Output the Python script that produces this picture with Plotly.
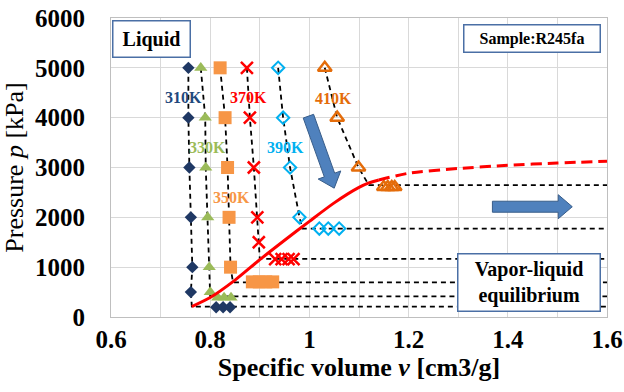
import plotly.graph_objects as go

FONT = "Liberation Serif, Times New Roman, serif"

# ---------------- data ----------------
temps = [310, 330, 350, 370, 390, 410]
labels = ["310K", "330K", "350K", "370K", "390K", "410K"]

# measured liquid-region points of each isotherm
v_310 = [0.756, 0.756, 0.758, 0.761, 0.764, 0.761]
p_310 = [5000, 4000, 3000, 2000, 1000, 500]
v_330 = [0.781, 0.790, 0.791, 0.795, 0.798, 0.800]
p_330 = [5000, 4000, 3000, 2000, 1000, 500]
v_350 = [0.820, 0.830, 0.835, 0.838, 0.841]
p_350 = [5000, 4000, 3000, 2000, 1000]
v_370 = [0.874, 0.880, 0.888, 0.895, 0.898]
p_370 = [5000, 4000, 3000, 2000, 1500]
v_390 = [0.937, 0.947, 0.961, 0.980]
p_390 = [5000, 4000, 3000, 2000]
v_410 = [1.031, 1.056, 1.099]
p_410 = [5000, 4000, 3000]

# measured points in the vapor-liquid region
v2_310 = [0.812, 0.826, 0.840]
p2_310 = [195, 195, 195]
v2_330 = [0.815, 0.828, 0.842]
p2_330 = [390, 390, 390]
v2_350 = [0.885, 0.899, 0.912, 0.926]
p2_350 = [705, 705, 705, 705]
v2_370 = [0.931, 0.944, 0.958, 0.968]
p2_370 = [1160, 1160, 1160, 1160]
v2_390 = [1.020, 1.038, 1.060]
p2_390 = [1775, 1775, 1775]
v2_410 = [1.150, 1.158, 1.166, 1.172]
p2_410 = [2610, 2610, 2610, 2610]

# saturation (bubble) point of each isotherm
sat_v = [0.763, 0.800, 0.846, 0.900, 0.986, 1.120]
sat_p = [207, 415, 695, 1165, 1775, 2645]

# saturated-liquid curve (solid) and its extension (dashed)
curve_v = [0.763, 0.800, 0.850, 0.900, 0.950, 1.000, 1.050, 1.100, 1.120, 1.140]
curve_p = [210, 390, 740, 1150, 1540, 1920, 2290, 2600, 2690, 2750]
ext_v = [1.140, 1.200, 1.300, 1.400, 1.500, 1.600]
ext_p = [2750, 2885, 2980, 3045, 3090, 3125]

# label positions (data coords)
lab_v = [0.746, 0.795, 0.842, 0.878, 0.952, 1.048]
lab_p = [4405, 3400, 2400, 4405, 3400, 4380]

X_MAX = 1.6

# ---------------- styles ----------------
colors_lab = ["#1F497D", "#9BBB59", "#F79646", "#FF0000", "#00B0F0", "#E46C0A"]
series = [
    (v_310, p_310, v2_310, p2_310, dict(symbol="diamond", size=9.5, color="#1F3864")),
    (v_330, p_330, v2_330, p2_330, dict(symbol="triangle-up", size=11.5, color="#9BBB59")),
    (v_350, p_350, v2_350, p2_350, dict(symbol="square", size=13, color="#F79646")),
    (v_370, p_370, v2_370, p2_370, dict(symbol="x-thin", size=12, color="#FF0000",
                                        line=dict(color="#FF0000", width=2.5))),
    (v_390, p_390, v2_390, p2_390, dict(symbol="diamond-open", size=9.5, color="#00B0F0",
                                        line=dict(color="#00B0F0", width=2))),
    (v_410, p_410, v2_410, p2_410, dict(symbol="triangle-up-open", size=12, color="#E46C0A",
                                        line=dict(color="#E46C0A", width=2.5))),
]

W, H = 624, 392
ML, MR, MT, MB = 111, 17, 18, 75
PW, PH = W - ML - MR, H - MT - MB
XR = [0.6, 1.6]
YR = [0, 6000]

fig = go.Figure()

# dashed isotherm lines
for i, (v, p, v2, p2, mk) in enumerate(series):
    fig.add_trace(go.Scatter(
        x=v + [sat_v[i], X_MAX], y=p + [sat_p[i], sat_p[i]],
        mode="lines", line=dict(color="#000000", width=1.8, dash="5px,4px"),
        showlegend=False, hoverinfo="skip"))

# markers
for i, (v, p, v2, p2, mk) in enumerate(series):
    fig.add_trace(go.Scatter(x=v + v2, y=p + p2, mode="markers", marker=mk,
                             name=labels[i], showlegend=False))

# saturated liquid curve
fig.add_trace(go.Scatter(x=curve_v, y=curve_p, mode="lines",
                         line=dict(color="#FF0000", width=3, shape="spline", smoothing=0.7),
                         showlegend=False))
fig.add_trace(go.Scatter(x=ext_v, y=ext_p, mode="lines",
                         line=dict(color="#FF0000", width=3, dash="11px,6px", shape="spline", smoothing=0.7),
                         showlegend=False))


# ---------------- helpers for block arrows ----------------
def to_px(v, p):
    return (ML + (v - XR[0]) / (XR[1] - XR[0]) * PW,
            MT + (YR[1] - p) / (YR[1] - YR[0]) * PH)


def to_data(x, y):
    return (XR[0] + (x - ML) / PW * (XR[1] - XR[0]),
            YR[1] - (y - MT) / PH * (YR[1] - YR[0]))


def block_arrow(tail, tip, bw=5.5, hw=12, hl=14):
    tx, ty = to_px(*tail)
    hx, hy = to_px(*tip)
    dx, dy = hx - tx, hy - ty
    L = (dx * dx + dy * dy) ** 0.5
    ux, uy = dx / L, dy / L
    nx, ny = -uy, ux
    bx, by = hx - ux * hl, hy - uy * hl
    pts = [(tx + nx * bw, ty + ny * bw), (bx + nx * bw, by + ny * bw),
           (bx + nx * hw, by + ny * hw), (hx, hy),
           (bx - nx * hw, by - ny * hw), (bx - nx * bw, by - ny * bw),
           (tx - nx * bw, ty - ny * bw)]
    d = [to_data(*q) for q in pts]
    return "M " + " L ".join(f"{a:.5f},{b:.2f}" for a, b in d) + " Z"


arrows = [((0.998, 4030), (1.050, 2585)), ((1.369, 2213), (1.530, 2213))]
for tail, tip in arrows:
    fig.add_shape(type="path", path=block_arrow(tail, tip), xref="x", yref="y",
                  fillcolor="#4F81BD", line=dict(color="#385D8A", width=1), layer="above")

# ---------------- annotations ----------------
for i in range(len(temps)):
    fig.add_annotation(x=lab_v[i], y=lab_p[i], text=labels[i], showarrow=False,
                       font=dict(family=FONT, size=16, color=colors_lab[i], weight="bold"))

box_style = dict(showarrow=False, xref="paper", yref="paper", xanchor="center", yanchor="middle",
                 bgcolor="#FFFFFF", bordercolor="#4A6FA5", borderwidth=1.5, borderpad=1)
fig.add_annotation(x=(151.7 - ML) / PW, y=(MT + PH - 39.3) / PH, text="Liquid", width=74, height=33,
                   font=dict(family=FONT, size=20, color="#000000", weight="bold"), **box_style)
fig.add_annotation(x=(532.3 - ML) / PW, y=(MT + PH - 38.7) / PH, text="Sample:R245fa", width=133, height=24,
                   font=dict(family=FONT, size=16, color="#000000", weight="bold"), **box_style)
fig.add_annotation(x=(528.7 - ML) / PW, y=(MT + PH - 282.8) / PH, text="Vapor-liquid<br>equilibrium",
                   width=139, height=54,
                   font=dict(family=FONT, size=20, color="#000000", weight="bold"), **box_style)

fig.update_layout(
    width=W, height=H,
    margin=dict(l=ML, r=MR, t=MT, b=MB, autoexpand=False),
    paper_bgcolor="#FFFFFF", plot_bgcolor="#FFFFFF",
    showlegend=False,
    font=dict(family=FONT, color="#000000"),
    xaxis=dict(range=XR, tick0=0.6, dtick=0.2, showgrid=True, gridcolor="#D9D9D9", gridwidth=1,
               minor=dict(dtick=0.1, showgrid=True, gridcolor="#D9D9D9", gridwidth=1),
               zeroline=False, showline=True, linecolor="#BFBFBF", linewidth=1, mirror=True,
               ticks="", ticklabelstandoff=0,
               tickfont=dict(family=FONT, size=25, color="#000000", weight="bold"),
               title=dict(text="Specific volume <i>v</i> [cm3/g]", standoff=4,
                          font=dict(family=FONT, size=26, color="#000000", weight="bold"))),
    yaxis=dict(range=YR, dtick=1000, showgrid=True, gridcolor="#D9D9D9", gridwidth=1,
               zeroline=False, showline=True, linecolor="#BFBFBF", linewidth=1, mirror=True,
               ticks="", ticklabelstandoff=20,
               tickfont=dict(family=FONT, size=25, color="#000000", weight="bold"),
               title=dict(text="Pressure <i>p</i> [kPa]", standoff=4,
                          font=dict(family=FONT, size=26, color="#000000"))),
)

fig.write_html("out.html", config={"displayModeBar": False},
               post_script="document.body.style.margin='0';document.body.style.overflow='hidden';")
